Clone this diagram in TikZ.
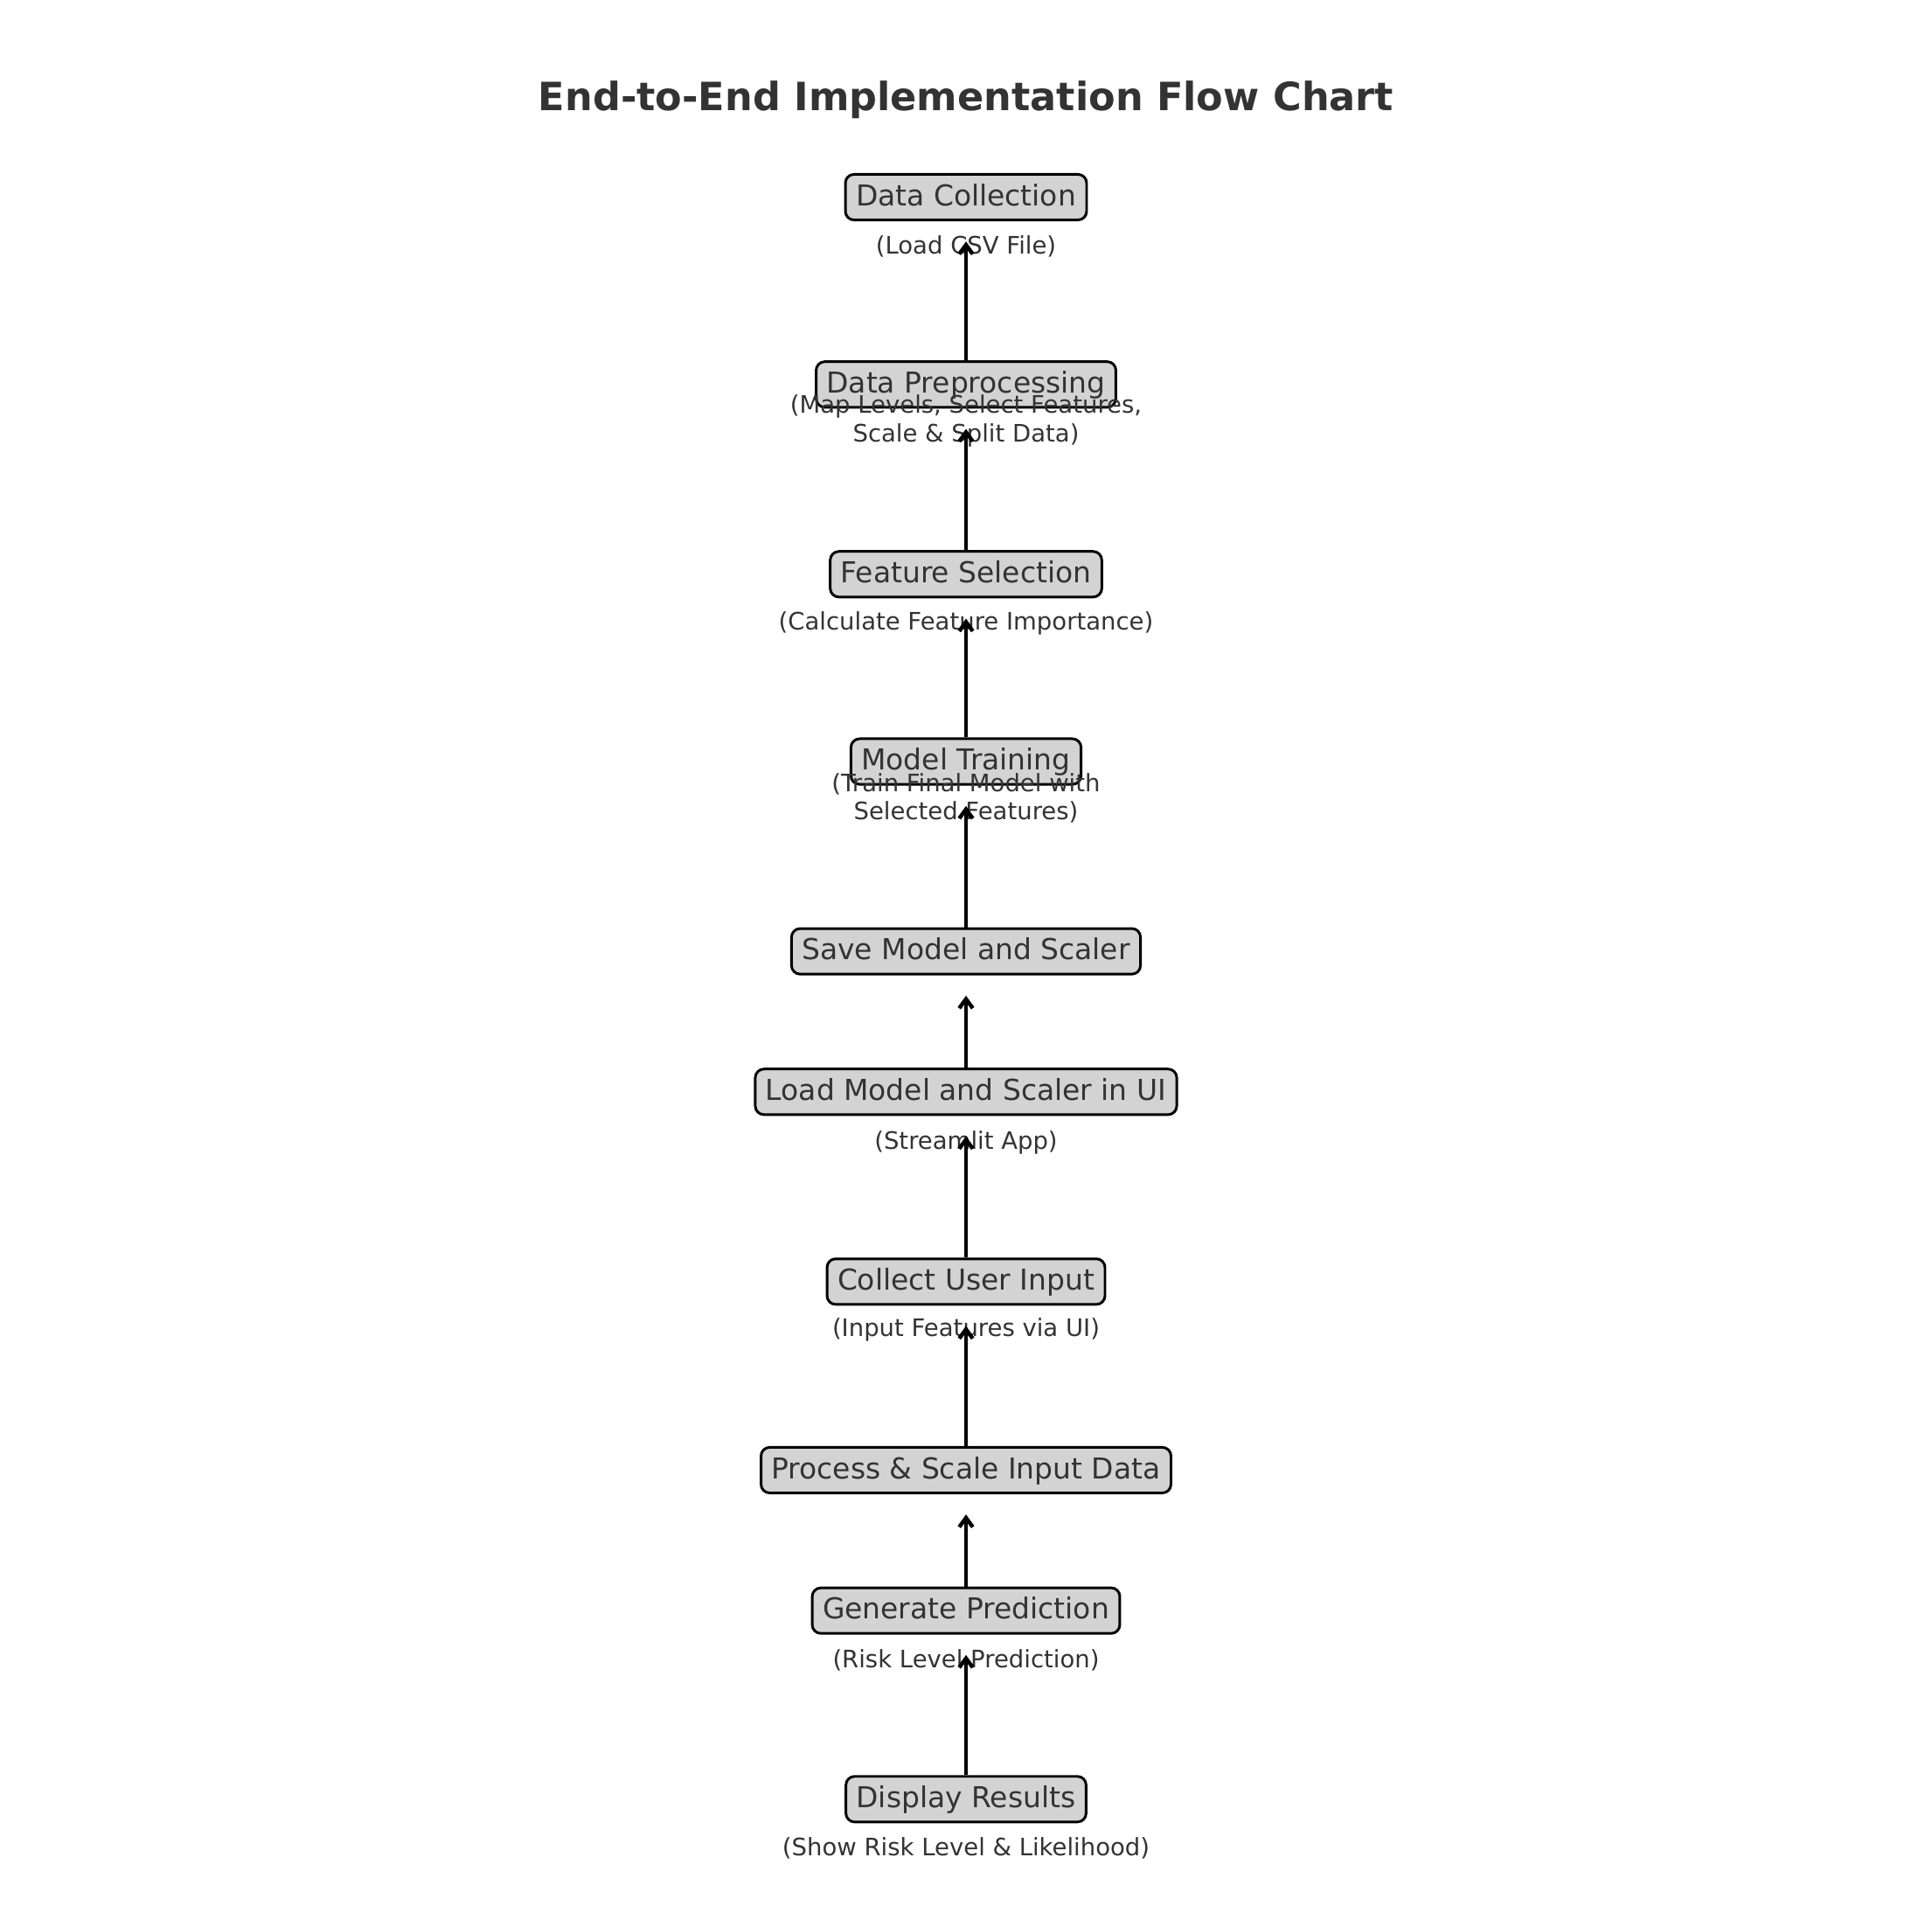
\documentclass[tikz,border=0pt]{standalone}
\usepackage{fontspec}
\setmainfont{DejaVu Sans}
\usepackage{tikz}
\usetikzlibrary{arrows.meta}
\definecolor{inkgray}{HTML}{333333}
\definecolor{boxgray}{HTML}{D3D3D3}
\tikzset{
  stagebox/.style  = {draw=black,fill=boxgray,line width=1.2pt,rounded corners=4pt,
                      text=inkgray,font=\fontsize{13.3}{16}\selectfont,
                      inner xsep=0.17cm,inner ysep=0pt,minimum height=0.74cm,
                      text height=11pt,text depth=3.2pt},
  stagenote/.style = {text=inkgray,font=\fontsize{11.1}{13}\selectfont,align=center,inner sep=0pt},
  flowarr/.style   = {-{Straight Barb[length=1.5mm,width=2.2mm]},line width=1.8pt,black}
}

\begin{document}
\begin{tikzpicture}[x=0.02cm,y=-0.02cm]
  \useasboundingbox (0,0) rectangle (1568,1558);
  \node[text=inkgray,font=\fontsize{18}{21}\selectfont\bfseries] (title) at (784,81)
    {End-to-End Implementation Flow Chart};

  % stages
  \node[stagebox] (collect) at (784,160)  {Data Collection};
  \node[stagebox] (prep)    at (784,312)  {Data Preprocessing};
  \node[stagebox] (featsel) at (784,466)  {Feature Selection};
  \node[stagebox] (train)   at (784,618)  {Model Training};
  \node[stagebox] (save)    at (784,772)  {Save Model and Scaler};
  \node[stagebox] (load)    at (784,886)  {Load Model and Scaler in UI};
  \node[stagebox] (input)   at (784,1040) {Collect User Input};
  \node[stagebox] (procin)  at (784,1193) {Process \& Scale Input Data};
  \node[stagebox] (predict) at (784,1307) {Generate Prediction};
  \node[stagebox] (display) at (784,1460) {Display Results};

  % notes under the stages
  \node[stagenote] (collect-n) at (784,200)   {(Load CSV File)};
  \node[stagenote] (prep-n)    at (784,341.5) {(Map Levels, Select Features,\\Scale \& Split Data)};
  \node[stagenote] (featsel-n) at (784,506)   {(Calculate Feature Importance)};
  \node[stagenote] (train-n)   at (784,647.5) {(Train Final Model with\\Selected Features)};
  \node[stagenote] (load-n)    at (784,927)   {(Streamlit App)};
  \node[stagenote] (input-n)   at (784,1079)  {(Input Features via UI)};
  \node[stagenote] (predict-n) at (784,1347)  {(Risk Level Prediction)};
  \node[stagenote] (display-n) at (784,1500)  {(Show Risk Level \& Likelihood)};

  % arrows
  \draw[flowarr] (prep.north)    -- ([yshift=-0.72cm]collect.center);
  \draw[flowarr] (featsel.north) -- ([yshift=-0.72cm]prep.center);
  \draw[flowarr] (train.north)   -- ([yshift=-0.72cm]featsel.center);
  \draw[flowarr] (save.north)    -- ([yshift=-0.72cm]train.center);
  \draw[flowarr] (load.north)    -- ([yshift=-0.72cm]save.center);
  \draw[flowarr] (input.north)   -- ([yshift=-0.72cm]load.center);
  \draw[flowarr] (procin.north)  -- ([yshift=-0.72cm]input.center);
  \draw[flowarr] (predict.north) -- ([yshift=-0.72cm]procin.center);
  \draw[flowarr] (display.north) -- ([yshift=-0.72cm]predict.center);
\end{tikzpicture}
\end{document}
